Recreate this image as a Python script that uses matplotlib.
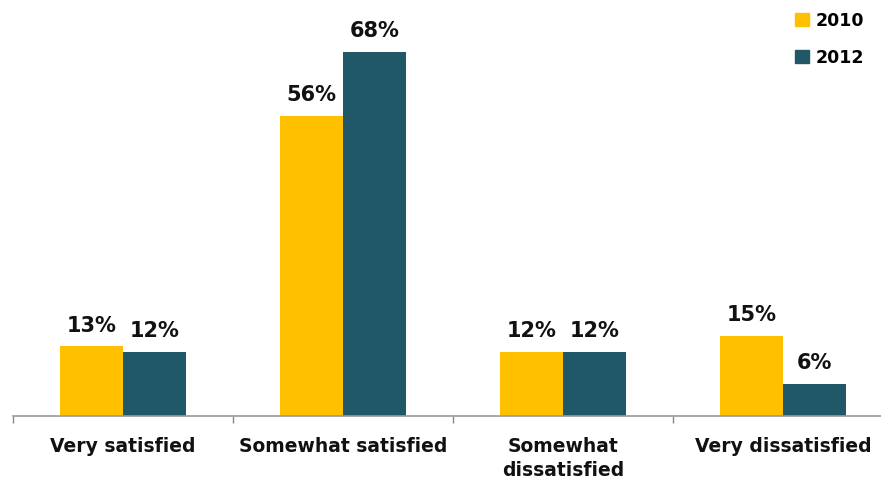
import matplotlib.pyplot as plt
from matplotlib.patches import Patch
import numpy as np

categories = ['Very satisfied', 'Somewhat satisfied', 'Somewhat\ndissatisfied', 'Very dissatisfied']
vals_2010 = [13, 56, 12, 15]
vals_2012 = [12, 68, 12, 6]
years = ['2010', '2012']
colors = ['#FFC000', '#215868']

fig = plt.figure(figsize=(8.81, 4.83), dpi=100)
# axes extends slightly past the right edge like the original
ax = fig.add_axes([13 / 881, 67 / 483, 880 / 881, 402 / 483])

x = np.arange(len(categories))
w = 0.285
b1 = ax.bar(x - w / 2, vals_2010, w, color=colors[0])
b2 = ax.bar(x + w / 2, vals_2012, w, color=colors[1])

for bars in (b1, b2):
    for rect in bars:
        h = rect.get_height()
        ax.text(rect.get_x() + rect.get_width() / 2, h + 2.0, f'{h:.0f}%',
                ha='center', va='bottom', fontsize=15, fontweight='bold', color='#111111')

ax.set_xlim(-0.5, 3.5)
ax.set_ylim(0, 75)
ax.set_xticks(x)
ax.set_xticklabels(categories, fontsize=13.5, fontweight='bold', color='#111111', va='top',
                   linespacing=1.35)
ax.tick_params(axis='x', which='major', length=0, pad=15)
ax.set_xticks(np.arange(-0.5, 4, 1), minor=True)
ax.tick_params(axis='x', which='minor', length=5, color='#888888', width=1)
ax.set_yticks([])
for s in ['top', 'right', 'left']:
    ax.spines[s].set_visible(False)
ax.spines['bottom'].set_color('#999999')
ax.spines['bottom'].set_linewidth(1.2)

handles = [Patch(color=c) for c in colors]
leg = fig.legend(handles, years, loc='upper left', bbox_to_anchor=(779 / 881, 1.008),
                 frameon=False, handlelength=0.8, handleheight=0.8, handletextpad=0.4,
                 labelspacing=1.1, prop={'size': 12.5, 'weight': 'bold'})

fig.savefig('out.png', dpi=100)
